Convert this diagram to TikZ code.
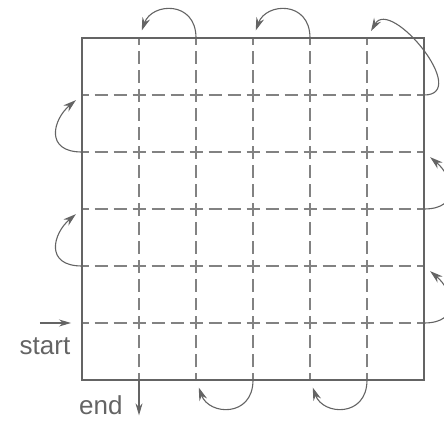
\documentclass[tikz,border=0pt]{standalone}
\usepackage{fontspec}
\setmainfont{Liberation Sans}
\usetikzlibrary{arrows.meta, positioning}

\definecolor{inkgray}{RGB}{100,100,100}
\definecolor{dashgray}{RGB}{130,130,130}

\tikzset{
  gridline/.style={dashgray, line width=1.3pt, dash pattern=on 13pt off 6pt, dash phase=6.5pt},
  frameline/.style={inkgray, line width=1.5pt},
  turn/.style={inkgray, line width=1.1pt, looseness=1.7, shorten >=8pt,
    -{Stealth[length=13pt,width=8pt]}},
  entry/.style={inkgray, line width=1.1pt, -{Stealth[length=12pt,width=7pt]}},
  tag/.style={inkgray, font=\fontsize{26}{28}\selectfont, inner sep=0pt}
}

\begin{document}
\begin{tikzpicture}[x=57pt,y=57pt]
    \useasboundingbox (-1.439,-0.719) rectangle (6.351,6.667);

    % dashed grid
    \foreach \j in {1,...,5} {
      \coordinate (w\j) at (0,\j);
      \coordinate (e\j) at (6,\j);
      \draw[gridline] (w\j) -- (e\j);
    }
    \foreach \i in {1,...,5} {
      \coordinate (s\i) at (\i,0);
      \coordinate (n\i) at (\i,6);
      \draw[gridline] (s\i) -- (n\i);
    }
    \draw[frameline] (0,0) rectangle (6,6);

    % rows, bottom to top
    \coordinate (startpt) at (-0.74,1);
    \draw[entry, shorten >=11pt] (startpt) -- (w1);
    \node[tag, anchor=base] (startlbl) at (-0.65,0.44) {start};
    \draw[turn] (e1) to[out=0,in=-40] (e2);
    \draw[turn] (w2) to[out=180,in=-140] (w3);
    \draw[turn] (e3) to[out=0,in=-40] (e4);
    \draw[turn] (w4) to[out=180,in=-140] (w5);
    \draw[turn, looseness=1.5] (e5) to[out=0,in=60] (n5);

    % columns, right to left
    \draw[turn] (s5) to[out=-90,in=-70] (s4);
    \draw[turn] (n4) to[out=90,in=70] (n3);
    \draw[turn] (s3) to[out=-90,in=-70] (s2);
    \draw[turn] (n2) to[out=90,in=70] (n1);
    \coordinate (finish) at (1,-0.62);
    \draw[entry] (s1) -- (finish);
    \node[tag, anchor=base] (endlbl) at (0.33,-0.61) {end};

\end{tikzpicture}
\end{document}
